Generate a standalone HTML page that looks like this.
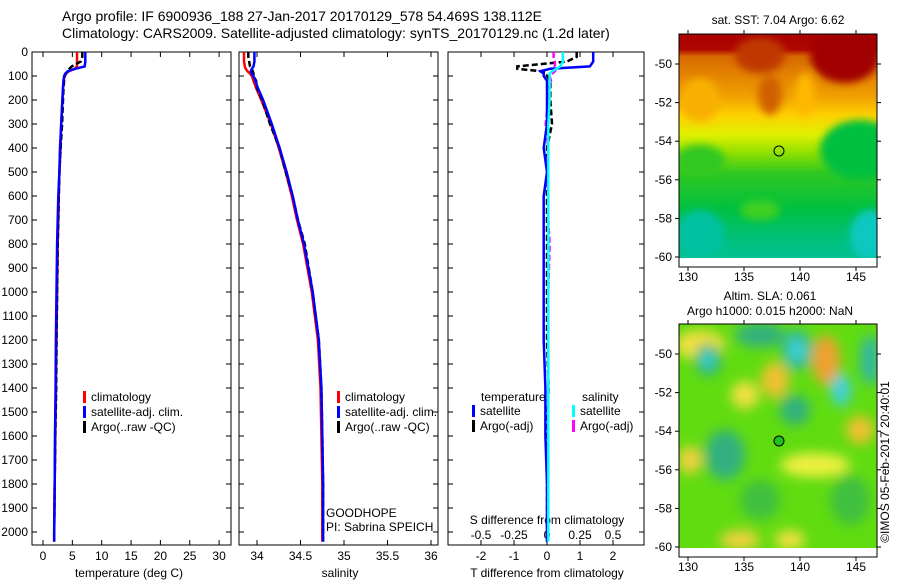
<!DOCTYPE html>
<html><head><meta charset="utf-8"><style>
body{margin:0;background:#fff}
svg{display:block;font-family:"Liberation Sans",sans-serif}
</style></head><body>
<svg id="chart" width="900" height="580" viewBox="0 0 900 580" xmlns="http://www.w3.org/2000/svg">
<defs>
<linearGradient id="sstGrad" x1="0" y1="0" x2="0" y2="1">
<stop offset="0" stop-color="#a80000"/><stop offset="0.07" stop-color="#b00800"/>
<stop offset="0.1" stop-color="#d86a00"/><stop offset="0.28" stop-color="#f0a000"/>
<stop offset="0.36" stop-color="#ffd000"/><stop offset="0.45" stop-color="#e0f000"/>
<stop offset="0.53" stop-color="#90e000"/><stop offset="0.62" stop-color="#30c820"/>
<stop offset="0.78" stop-color="#00c040"/><stop offset="0.93" stop-color="#00c080"/>
<stop offset="1" stop-color="#00c090"/></linearGradient>
<filter id="blur6"><feGaussianBlur stdDeviation="6"/></filter>
<filter id="blur4"><feGaussianBlur stdDeviation="4"/></filter>
<clipPath id="clipTop"><rect x="679" y="34" width="198" height="224"/></clipPath>
<clipPath id="clipBot"><rect x="679" y="324" width="198" height="224"/></clipPath>
</defs>
<g font-size="14">
<text x="62" y="21">Argo profile: IF 6900936_188 27-Jan-2017 20170129_578 54.469S 138.112E</text>
<text x="62" y="38">Climatology: CARS2009. Satellite-adjusted climatology: synTS_20170129.nc (1.2d later)</text>
</g>
<g id="panels"></g>
<g id="maps">
<g>
<text x="778" y="24" font-size="12" text-anchor="middle">sat. SST: 7.04 Argo: 6.62</text>
<g clip-path="url(#clipTop)">
<rect x="679" y="34" width="198" height="224" fill="url(#sstGrad)"/>
<g filter="url(#blur4)">
<ellipse cx="845" cy="55" rx="35" ry="28" fill="#a00000"/>
<ellipse cx="760" cy="55" rx="25" ry="18" fill="#c03800"/>
<ellipse cx="700" cy="100" rx="20" ry="22" fill="#f8b000"/>
<ellipse cx="770" cy="95" rx="12" ry="20" fill="#d06000"/>
<ellipse cx="805" cy="95" rx="10" ry="22" fill="#ffb800"/>
<ellipse cx="860" cy="150" rx="40" ry="30" fill="#00c040"/>
<ellipse cx="700" cy="160" rx="25" ry="15" fill="#30c820"/>
<ellipse cx="700" cy="235" rx="25" ry="25" fill="#00c0a0"/>
<ellipse cx="870" cy="235" rx="20" ry="25" fill="#10c8c0"/>
<ellipse cx="760" cy="210" rx="20" ry="10" fill="#40d020"/>
</g>
</g>
<rect x="679" y="34" width="198" height="233" fill="none" stroke="#000"/>
<circle cx="779" cy="151" r="5" fill="none" stroke="#000"/>
</g>
<g>
<text x="770" y="300" font-size="12" text-anchor="middle">Altim. SLA: 0.061</text>
<text x="770" y="315" font-size="12" text-anchor="middle">Argo h1000: 0.015 h2000: NaN</text>
<g clip-path="url(#clipBot)">
<rect x="679" y="324" width="198" height="224" fill="#60dc10"/>
<g filter="url(#blur6)">
<ellipse cx="700" cy="345" rx="25" ry="15" fill="#f0e040"/>
<ellipse cx="708" cy="360" rx="13" ry="16" fill="#30b080"/>
<ellipse cx="708" cy="360" rx="6" ry="8" fill="#30d8e0"/>
<ellipse cx="760" cy="335" rx="25" ry="12" fill="#30b080"/>
<ellipse cx="797" cy="350" rx="15" ry="20" fill="#30b8a0"/>
<ellipse cx="797" cy="350" rx="7" ry="10" fill="#40d8e0"/>
<ellipse cx="826" cy="360" rx="14" ry="25" fill="#f0a030"/>
<ellipse cx="841" cy="390" rx="10" ry="16" fill="#40d0e0"/>
<ellipse cx="870" cy="360" rx="10" ry="25" fill="#30b8a0"/>
<ellipse cx="775" cy="380" rx="14" ry="18" fill="#f0c030"/>
<ellipse cx="745" cy="395" rx="14" ry="14" fill="#f0e040"/>
<ellipse cx="795" cy="410" rx="15" ry="15" fill="#30b080"/>
<ellipse cx="725" cy="455" rx="20" ry="25" fill="#30b080"/>
<ellipse cx="690" cy="460" rx="12" ry="14" fill="#f0d040"/>
<ellipse cx="815" cy="465" rx="35" ry="12" fill="#f0f040"/>
<ellipse cx="860" cy="430" rx="14" ry="14" fill="#f0c030"/>
<ellipse cx="760" cy="500" rx="20" ry="20" fill="#40c040"/>
<ellipse cx="740" cy="540" rx="20" ry="10" fill="#f0d040"/>
<ellipse cx="790" cy="540" rx="15" ry="10" fill="#f0e040"/>
<ellipse cx="850" cy="500" rx="20" ry="25" fill="#40c040"/>
</g>
</g>
<rect x="679" y="324" width="198" height="233" fill="none" stroke="#000"/>
<circle cx="779" cy="441" r="5" fill="#20c020" stroke="#000"/>
<text transform="translate(889,462) rotate(-90)" font-size="12" text-anchor="middle">©IMOS 05-Feb-2017 20:40:01</text>
</g>
</g>
</svg>
<script>
const depths=[0,20,40,60,70,80,90,100,120,150,200,300,400,500,600,700,800,1000,1200,1400,1600,1800,2000,2040];
const tempClim=[5.8,5.8,5.8,5.8,5.4,4.4,3.9,3.7,3.5,3.4,3.3,3.1,3.0,2.8,2.7,2.6,2.5,2.4,2.3,2.2,2.1,2.0,1.9,1.9];
const tempSat=[7.2,7.2,7.2,7.1,5.5,4.2,3.8,3.6,3.5,3.4,3.3,3.1,2.9,2.8,2.6,2.5,2.4,2.3,2.2,2.15,2.05,2.0,1.9,1.9];
const tempArgo=[6.7,6.7,6.4,4.9,4.5,4.2,3.9,3.7,3.6,3.5,3.4,3.25,3.0,2.8,2.7,2.6,2.5,2.4,2.3,2.25,2.1,2.0,1.9,1.9];
const salClim=[33.85,33.85,33.85,33.86,33.87,33.89,33.92,33.94,33.96,33.99,34.05,34.16,34.25,34.33,34.4,34.46,34.53,34.63,34.7,34.73,34.74,34.75,34.75,34.75];
const salSat=[33.97,33.97,33.97,33.96,33.94,33.93,33.94,33.96,33.98,34.01,34.07,34.17,34.26,34.34,34.41,34.47,34.54,34.64,34.71,34.74,34.75,34.76,34.76,34.76];
const salArgo=[33.9,33.9,33.91,33.92,33.94,33.95,33.96,33.96,33.99,34.0,34.06,34.15,34.26,34.33,34.41,34.47,34.55,34.64,34.71,34.74,34.75,34.76,34.76,34.76];
const depthTicks=[0,100,200,300,400,500,600,700,800,900,1000,1100,1200,1300,1400,1500,1600,1700,1800,1900,2000];
const tempTicks=[0,5,10,15,20,25,30];
const salTicks=[34,34.5,35,35.5,36];
const salTickLabels=["34","34.5","35","35.5","36"];
const tDiffTicks=[-2,-1,0,1,2];
const sDiffTicks=[-0.5,-0.25,0,0.25,0.5];
const sDiffLabels=["-0.5","-0.25","0","0.25","0.5"];

const NS="http://www.w3.org/2000/svg";
const root=document.getElementById('panels');
function mk(tag,attrs,parent){const e=document.createElementNS(NS,tag);for(const k in attrs)e.setAttribute(k,attrs[k]);(parent||root).appendChild(e);return e;}
function txt(x,y,s,parent,anchor,size){const t=mk('text',{x:x,y:y,'font-size':size||12,'text-anchor':anchor||'start'},parent);t.textContent=s;return t;}
const TOP=52,BOT=545;
const yD=d=>TOP+d*0.24;
const xT=v=>43+v*5.87;
const xS=v=>257+(v-34)*87;
const xDT=v=>547+v*33;
const xDS=v=>547+v*132;

function frame(x0,x1,name){
  const g=mk('g',{});
  
  
  mk('rect',{x:x0,y:TOP,width:x1-x0,height:BOT-TOP,fill:'none',stroke:'#000','stroke-width':1},g);
  depthTicks.forEach(d=>{const y=yD(d);mk('line',{x1:x0,x2:x0+5,y1:y,y2:y,stroke:'#000'},g);mk('line',{x1:x1-5,x2:x1,y1:y,y2:y,stroke:'#000'},g);});
  return g;
}
function line(g,xs,fn,color,name,dash,w){
  const pts=depths.map((d,i)=>fn(xs[i]).toFixed(1)+','+yD(d).toFixed(1)).join(' ');
  const p=mk('polyline',{points:pts,fill:'none',stroke:color,'stroke-width':w||2.5},g);
  if(dash)p.setAttribute('stroke-dasharray',dash);
  
  
}
function legend(g,x,y,items){
  items.forEach((it,i)=>{
    const yy=y+i*15;
    const r=mk('rect',{x:x,y:yy-10,width:3,height:12,fill:it[0]},g);
    
    
    const t=txt(x+8,yy,it[1],g);
    
    
  });
}

const g1=frame(32,231,'temperature-panel');
depthTicks.forEach(d=>{const t=txt(28,yD(d)+4,String(d),g1,'end');});
tempTicks.forEach(v=>{const x=xT(v);mk('line',{x1:x,x2:x,y1:BOT,y2:BOT-5,stroke:'#000'},g1);mk('line',{x1:x,x2:x,y1:TOP,y2:TOP+5,stroke:'#000'},g1);const t=txt(x,560,String(v),g1,'middle');});
const xt1=txt(129,577,'temperature (deg C)',g1,'middle');


line(g1,tempClim,xT,'#f00','temp-climatology-line');
line(g1,tempArgo,xT,'#000','temp-argo-line','6,3',2.5);
line(g1,tempSat,xT,'#00f','temp-satellite-line');
legend(g1,83,401,[['#f00','climatology'],['#00f','satellite-adj. clim.'],['#000','Argo(..raw -QC)']]);

const g2=frame(239,438,'salinity-panel');
salTicks.forEach((v,i)=>{const x=xS(v);mk('line',{x1:x,x2:x,y1:BOT,y2:BOT-5,stroke:'#000'},g2);mk('line',{x1:x,x2:x,y1:TOP,y2:TOP+5,stroke:'#000'},g2);const t=txt(x,560,salTickLabels[i],g2,'middle');});
const xt2=txt(340,577,'salinity',g2,'middle');


line(g2,salClim,xS,'#f00','sal-climatology-line');
line(g2,salArgo,xS,'#000','sal-argo-line','6,3',2.5);
line(g2,salSat,xS,'#00f','sal-satellite-line');
legend(g2,337,401,[['#f00','climatology'],['#00f','satellite-adj. clim.'],['#000','Argo(..raw -QC)']]);
const gh=txt(326,517,'GOODHOPE',g2);
const pi=txt(326,531,'PI: Sabrina SPEICH',g2);

const g3=frame(448,644,'difference-panel');
tDiffTicks.forEach(v=>{const x=xDT(v);mk('line',{x1:x,x2:x,y1:BOT,y2:BOT-5,stroke:'#000'},g3);mk('line',{x1:x,x2:x,y1:TOP,y2:TOP+5,stroke:'#000'},g3);const t=txt(x,560,String(v),g3,'middle');});
sDiffTicks.forEach((v,i)=>{const t=txt(xDS(v),539,sDiffLabels[i],g3,'middle');});
const st=txt(547,524,'S difference from climatology',g3,'middle');


const tt=txt(547,577,'T difference from climatology',g3,'middle');


const dTs=tempSat.map((v,i)=>v-tempClim[i]);
const dTa=tempArgo.map((v,i)=>v-tempClim[i]);
const dSs=salSat.map((v,i)=>v-salClim[i]);
const dSa=salArgo.map((v,i)=>v-salClim[i]);
line(g3,dTa,xDT,'#000','tdiff-argo-line','6,3',2.5);
line(g3,dSa,xDS,'#f0f','sdiff-argo-line','6,3',2.5);
line(g3,dTs,xDT,'#00f','tdiff-satellite-line');
line(g3,dSs,xDS,'#0ff','sdiff-satellite-line');
const lt=txt(481,401,'temperature',g3);
const ls=txt(582,401,'salinity',g3);
legend(g3,472,415,[['#00f','satellite'],['#000','Argo(-adj)']]);
legend(g3,572,415,[['#0ff','satellite'],['#f0f','Argo(-adj)']]);

const mapsG=document.getElementById('maps');
const lonTicks=[130,135,140,145];
const latTicks=[-50,-52,-54,-56,-58,-60];
const xLon=v=>688+(v-130)*11.2;
[[64,34,267],[354,324,557]].forEach(([y50,top,bot])=>{
  const yLat=v=>y50+(-50-v)*19.3;
  lonTicks.forEach(v=>{const x=xLon(v);mk('line',{x1:x,x2:x,y1:bot,y2:bot+4,stroke:'#000'},mapsG);mk('line',{x1:x,x2:x,y1:top,y2:top-4,stroke:'#000'},mapsG);const t=txt(x,bot+14,String(v),mapsG,'middle');});
  latTicks.forEach(v=>{const y=yLat(v);mk('line',{x1:675,x2:679,y1:y,y2:y,stroke:'#000'},mapsG);mk('line',{x1:877,x2:881,y1:y,y2:y,stroke:'#000'},mapsG);const t=txt(672,y+4,String(v),mapsG,'end');});
});
</script>
</body></html>
